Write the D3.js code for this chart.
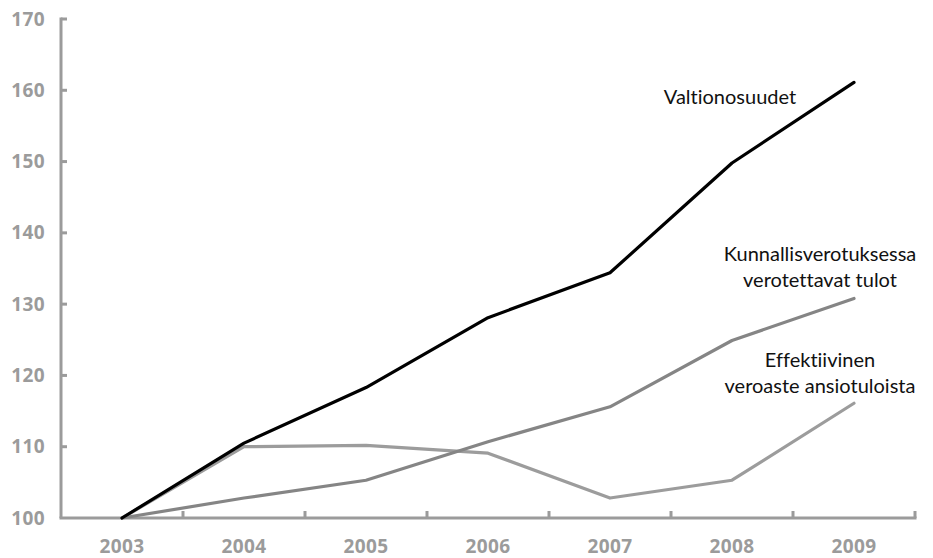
<!DOCTYPE html>
<html>
<head>
<meta charset="utf-8">
<script src="https://cdn.jsdelivr.net/npm/d3@7"></script>
<style>
  body { margin: 0; background: #fff; }
  svg { display: block; }
  text { font-variant-ligatures: none; }
</style>
</head>
<body>
<div id="chart"></div>
<script>
// vuodet ja sarjat (indeksi 2003 = 100)
var years = ["2003", "2004", "2005", "2006", "2007", "2008", "2009"];
var valtionosuudet = [100, 110.5, 118.3, 128.1, 134.4, 149.8, 161.1];
var kunnallisvero = [100, 102.8, 105.3, 110.7, 115.6, 124.9, 130.8];
var effektiivinen = [100, 110.0, 110.2, 109.1, 102.8, 105.3, 116.1];
var yTicks = [100, 110, 120, 130, 140, 150, 160, 170];

var width = 933, height = 558;
var axisColor = "#9b9b9b";

var svg = d3.select("#chart").append("svg")
  .attr("width", width)
  .attr("height", height);

var x = d3.scaleBand()
  .domain(years)
  .range([61, 915])
  .padding(0);

var y = d3.scaleLinear()
  .domain([100, 170])
  .range([518, 19]);

var cx = function(d) { return x(d) + x.bandwidth() / 2; };

// y axis
var yAxis = d3.axisLeft(y).tickValues(yTicks).tickSize(0).tickPadding(16);
var gy = svg.append("g")
  .attr("transform", "translate(61,0)")
  .call(yAxis);
gy.select(".domain").remove();
gy.selectAll("text")
  .style("font-family", "'Open Sans', sans-serif")
  .style("font-weight", "bold")
  .style("font-size", "19px")
  .style("letter-spacing", "0.4px")
  .style("fill", axisColor);

svg.append("line")
  .attr("x1", 61).attr("x2", 61)
  .attr("y1", y(170) - 1.5).attr("y2", y(100))
  .attr("stroke", axisColor).attr("stroke-width", 3);

svg.selectAll(".ytick")
  .data(yTicks.filter(function(d) { return d !== 100; }))
  .enter().append("line")
  .attr("class", "ytick")
  .attr("x1", 61).attr("x2", 67)
  .attr("y1", function(d) { return y(d); })
  .attr("y2", function(d) { return y(d); })
  .attr("stroke", axisColor).attr("stroke-width", 3);

// x axis
svg.append("line")
  .attr("x1", 59.5).attr("x2", 916.5)
  .attr("y1", y(100)).attr("y2", y(100))
  .attr("stroke", axisColor).attr("stroke-width", 3);

svg.selectAll(".xtick")
  .data(years)
  .enter().append("line")
  .attr("class", "xtick")
  .attr("x1", function(d) { return x(d) + x.bandwidth(); })
  .attr("x2", function(d) { return x(d) + x.bandwidth(); })
  .attr("y1", y(100)).attr("y2", y(100) - 7)
  .attr("stroke", axisColor).attr("stroke-width", 3);

svg.selectAll(".xlabel")
  .data(years)
  .enter().append("text")
  .attr("class", "xlabel")
  .attr("x", cx)
  .attr("y", 553)
  .attr("text-anchor", "middle")
  .style("font-family", "'Open Sans', sans-serif")
  .style("font-weight", "bold")
  .style("font-size", "19px")
  .style("letter-spacing", "0.4px")
  .style("fill", axisColor)
  .text(function(d) { return d; });

// lines
var line = d3.line()
  .x(function(d, i) { return cx(years[i]); })
  .y(function(d) { return y(d); });

var series = [
  { values: effektiivinen, color: "#9c9c9c" },
  { values: kunnallisvero, color: "#858585" },
  { values: valtionosuudet, color: "#000000" }
];

svg.selectAll(".series")
  .data(series)
  .enter().append("path")
  .attr("class", "series")
  .attr("d", function(d) { return line(d.values); })
  .attr("fill", "none")
  .attr("stroke", function(d) { return d.color; })
  .attr("stroke-width", 3.2)
  .attr("stroke-linejoin", "round")
  .attr("stroke-linecap", "round");

// labels
var labels = [
  { lines: ["Valtionosuudet"], x: 730, y: 104 },
  { lines: ["Kunnallisverotuksessa", "verotettavat tulot"], x: 820, y: 261 },
  { lines: ["Effektiivinen", "veroaste ansiotuloista"], x: 820, y: 367 }
];

labels.forEach(function(l) {
  var t = svg.append("text")
    .attr("text-anchor", "middle")
    .style("font-family", "Lato, sans-serif")
    .style("font-size", "20px")
    .style("fill", "#111");
  l.lines.forEach(function(s, i) {
    t.append("tspan")
      .attr("x", l.x)
      .attr("y", l.y + i * 26)
      .text(s);
  });
});
</script>
</body>
</html>
